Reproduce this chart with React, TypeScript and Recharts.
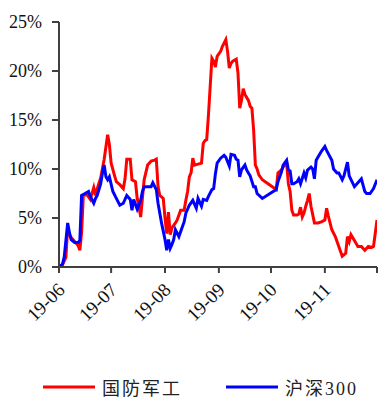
import { LineChart, Line, XAxis, YAxis, Legend } from 'recharts'

// days counted from 2019-06-01, values in %
const redDays = [0, 2, 4, 5, 6, 7, 9, 11, 12, 13, 14, 16, 18, 20, 21, 22, 24, 26, 28, 29, 30, 32, 33, 35, 37, 38, 39, 41, 42, 44, 45, 46, 47, 48, 49, 51, 53, 55, 56, 57, 58, 60, 61, 62, 63, 64, 65, 67, 68, 70, 72, 73, 74, 75, 76, 77, 78, 80, 82, 83, 84, 85, 86, 87, 88, 89, 90, 91, 93, 94, 96, 97, 98, 99, 100, 102, 103, 104, 105, 106, 107, 109, 110, 111, 112, 113, 114, 115, 117, 125, 126, 128, 129, 131, 132, 133, 134, 135, 137, 138, 139, 140, 141, 142, 143, 144, 145, 147, 149, 151, 153, 154, 155, 157, 159, 161, 163, 165, 166, 167, 168, 170, 172, 174, 176, 178, 180, 181, 183]
const redValues = [0, 0.2, 1.0, 4.1, 3.3, 3.0, 2.6, 2.2, 1.7, 3.5, 7.3, 7.4, 6.9, 8.1, 7.3, 8.0, 9.1, 11.0, 13.5, 12.5, 10.6, 9.3, 8.7, 8.4, 8.0, 9.0, 11.0, 11.0, 8.9, 8.7, 7.0, 6.2, 5.1, 7.0, 8.9, 10.4, 10.8, 10.9, 11.0, 8.2, 7.3, 7.0, 5.0, 3.4, 5.6, 3.3, 4.0, 4.5, 4.8, 5.8, 5.8, 6.8, 7.7, 9.2, 9.6, 11.1, 10.4, 10.5, 10.6, 12.6, 12.9, 13.0, 15.5, 18.4, 21.3, 21.0, 20.4, 21.5, 22.0, 22.5, 23.2, 22.0, 20.3, 20.8, 21.0, 21.2, 19.8, 16.2, 17.0, 18.2, 17.6, 17.0, 16.4, 16.2, 14.0, 10.4, 10.0, 9.4, 8.9, 7.9, 9.6, 9.9, 10.2, 10.6, 8.5, 7.7, 5.8, 5.3, 5.3, 5.4, 6.1, 5.1, 5.5, 6.2, 6.8, 7.5, 6.2, 4.5, 4.5, 4.6, 4.8, 6.0, 5.2, 3.8, 3.1, 2.1, 1.1, 1.4, 3.1, 2.6, 3.3, 2.7, 2.1, 2.1, 1.7, 2.1, 2.0, 2.1, 4.8]

const blueDays = [0, 2, 3, 5, 6, 7, 9, 11, 12, 13, 15, 17, 18, 20, 21, 22, 24, 25, 26, 27, 28, 29, 31, 33, 35, 37, 39, 41, 42, 43, 45, 47, 48, 49, 51, 53, 54, 56, 57, 59, 61, 62, 63, 64, 65, 66, 67, 69, 71, 72, 73, 75, 77, 79, 80, 81, 82, 83, 85, 86, 88, 89, 90, 91, 93, 95, 96, 98, 99, 101, 102, 103, 104, 105, 107, 108, 109, 110, 112, 113, 114, 117, 125, 126, 128, 129, 131, 132, 133, 134, 135, 137, 138, 139, 141, 142, 143, 145, 146, 147, 148, 151, 153, 154, 157, 158, 160, 161, 163, 164, 166, 167, 170, 172, 174, 176, 177, 179, 181, 183]
const blueValues = [0, 0.3, 1.0, 4.5, 3.5, 2.8, 2.5, 2.5, 2.7, 7.3, 7.5, 7.7, 7.2, 6.5, 7.0, 7.3, 8.5, 9.6, 10.4, 9.2, 8.9, 9.2, 7.7, 7.0, 6.3, 6.5, 7.3, 6.9, 5.8, 6.9, 5.9, 6.8, 7.7, 8.2, 8.2, 8.2, 8.6, 7.9, 6.5, 4.5, 2.8, 1.7, 2.8, 1.9, 2.3, 2.8, 3.8, 3.1, 4.1, 4.6, 5.5, 6.3, 6.8, 6.0, 7.0, 6.6, 6.2, 6.9, 6.8, 7.2, 7.9, 8.0, 9.5, 10.6, 11.1, 11.4, 11.2, 10.3, 11.5, 11.4, 11.0, 10.9, 9.2, 9.9, 10.4, 9.9, 9.6, 9.3, 8.2, 8.2, 7.5, 7.0, 7.9, 8.7, 9.7, 10.4, 10.9, 9.9, 9.8, 8.5, 8.5, 8.7, 9.0, 8.5, 9.6, 9.1, 9.9, 10.2, 10.0, 9.0, 10.9, 11.8, 12.3, 11.9, 10.9, 10.0, 9.6, 9.6, 8.9, 9.3, 10.7, 9.3, 8.2, 8.6, 9.0, 7.7, 7.5, 7.5, 8.0, 8.9]

const monthTicks = [0, 30, 61, 92, 122, 153, 183]
const monthLabels = ['19-06', '19-07', '19-08', '19-09', '19-10', '19-11', '']
const yTicks = [0, 5, 10, 15, 20, 25]

const redData = redDays.map((d, i) => ({ day: d, v: redValues[i] }))
const blueData = blueDays.map((d, i) => ({ day: d, v: blueValues[i] }))

const AXIS = '#404040'
const FONT = "'Liberation Serif', 'Noto Sans CJK SC', serif"

function MonthTick(props: any) {
  const { x, y, payload } = props
  const label = monthLabels[monthTicks.indexOf(payload.value)] || ''
  const ax = x + 7
  const ay = y + 16
  return (
    <text
      x={ax}
      y={ay}
      textAnchor="end"
      fontSize={19}
      fontFamily={FONT}
      fill="#111"
      transform={`rotate(-45, ${ax}, ${ay})`}
    >
      {label}
    </text>
  )
}

function LegendBox() {
  const items = [
    { name: '国防军工', color: '#ff0000', gap: 44 },
    { name: '沪深300', color: '#0000ff', gap: 0 },
  ]
  return (
    <div style={{ display: 'flex', alignItems: 'center', paddingLeft: 43, height: 24 }}>
      {items.map((it) => (
        <div key={it.name} style={{ display: 'flex', alignItems: 'center', marginRight: it.gap }}>
          <svg width={52} height={4}>
            <line x1={0} y1={2} x2={52} y2={2} stroke={it.color} strokeWidth={3} />
          </svg>
          <span style={{ marginLeft: 7, fontSize: 18, fontFamily: FONT, color: '#222', letterSpacing: 2 }}>
            {it.name}
          </span>
        </div>
      ))}
    </div>
  )
}

export default function App() {
  return (
    <div style={{ position: 'absolute', left: 0, top: 0, background: '#fff' }}>
      <LineChart width={379} height={399} margin={{ top: 22, right: 2, bottom: 0, left: 0 }}>
        <XAxis
          type="number"
          dataKey="day"
          domain={[0, 183]}
          ticks={monthTicks}
          interval={0}
          tick={<MonthTick />}
          tickSize={6}
          height={108}
          stroke={AXIS}
          strokeWidth={2}
          allowDataOverflow
        />
        <YAxis
          type="number"
          domain={[0, 25]}
          ticks={yTicks}
          tickFormatter={(v: number) => `${v}%`}
          width={59}
          tickSize={7}
          tickMargin={10}
          stroke={AXIS}
          strokeWidth={2}
          tick={{ fontSize: 18, fontFamily: FONT, fill: '#111' }}
        />
        <Line data={redData} dataKey="v" name="国防军工" type="linear" stroke="#ff0000" strokeWidth={3} dot={false} isAnimationActive={false} />
        <Line data={blueData} dataKey="v" name="沪深300" type="linear" stroke="#0000ff" strokeWidth={3} dot={false} isAnimationActive={false} />
        <Legend verticalAlign="bottom" height={24} content={<LegendBox />} />
      </LineChart>
    </div>
  )
}
